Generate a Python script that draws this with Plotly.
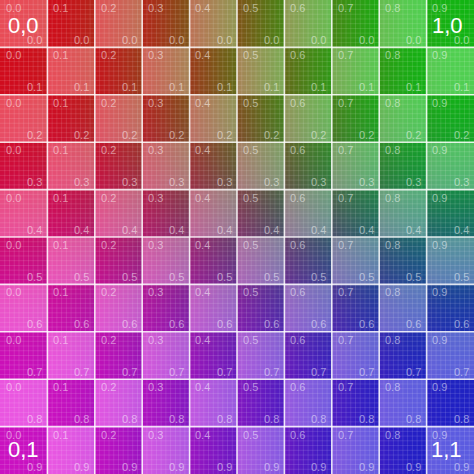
import numpy as np
import plotly.graph_objects as go

# Data: cell coordinates and labels
x_vals = [0.0, 0.1, 0.2, 0.3, 0.4, 0.5, 0.6, 0.7, 0.8, 0.9]
y_vals = [0.0, 0.1, 0.2, 0.3, 0.4, 0.5, 0.6, 0.7, 0.8, 0.9]
x_labels = ["0.0", "0.1", "0.2", "0.3", "0.4", "0.5", "0.6", "0.7", "0.8", "0.9"]
y_labels = ["0.0", "0.1", "0.2", "0.3", "0.4", "0.5", "0.6", "0.7", "0.8", "0.9"]
corner_labels = ["0,0", "1,0", "0,1", "1,1"]

# Corner colours (styles)
C_TL = np.array([225, 25, 40], float)    # 0,0 red
C_TR = np.array([30, 195, 30], float)    # 1,0 green
C_BL = np.array([228, 38, 218], float)   # 0,1 magenta
C_BR = np.array([45, 45, 215], float)    # 1,1 blue

N = len(x_vals)
SUB = 20
W = N * SUB

def ease(t):
    t = np.clip(t, 0, 1)
    return 3 * t ** 2 - 2 * t ** 3

def bilinear(xe, ye):
    xe = ease(xe)[None, :, None]
    ye = ease(ease(ye))[:, None, None]
    top = C_TL * (1 - xe) + C_TR * xe
    bot = C_BL * (1 - xe) + C_BR * xe
    return top * (1 - ye) + bot * ye

img = np.zeros((W, W, 3))
u = (np.arange(SUB) + 0.5) / SUB
for j, yv in enumerate(y_vals):
    for i, xv in enumerate(x_vals):
        xe = xv + 0.05 + (u - 0.5) * 0.2
        ye = yv + 0.05 + (u - 0.5) * 0.1
        c = bilinear(xe, ye)
        if (i + j) % 2 == 0:
            c = c + (255 - c) * 0.22
        else:
            g = c.mean(axis=2, keepdims=True)
            c = (g + (c - g) * 1.15) * 0.85
        img[j * SUB:(j + 1) * SUB, i * SUB:(i + 1) * SUB] = c
img = np.clip(np.round(img), 0, 255).astype(int)

fig = go.Figure()
fig.add_trace(go.Image(z=img.tolist(), x0=0.5 / SUB, dx=1 / SUB,
                       y0=0.5 / SUB, dy=1 / SUB, hoverinfo="skip"))

# minor grid lines
mx, my = [], []
for k in range(1, N * 10):
    if k % 10 == 0:
        continue
    p = k / 10
    mx += [p, p, None]; my += [0, N, None]
    mx += [0, N, None]; my += [p, p, None]
fig.add_trace(go.Scatter(x=mx, y=my, mode="lines",
                         line=dict(color="rgba(255,255,255,0.12)", width=1),
                         hoverinfo="skip", showlegend=False))
# major grid lines
Mx, My = [], []
for k in range(1, N):
    Mx += [k, k, None]; My += [0, N, None]
    Mx += [0, N, None]; My += [k, k, None]
fig.add_trace(go.Scatter(x=Mx, y=My, mode="lines",
                         line=dict(color="rgba(255,255,255,0.85)", width=1.6),
                         hoverinfo="skip", showlegend=False))

FONT = "Liberation Sans"
ann = []
for j, yl in enumerate(y_labels):
    for i, xl in enumerate(x_labels):
        ann.append(dict(x=i + 0.08, y=j + 0.17, text=xl, showarrow=False,
                        xanchor="left", yanchor="middle",
                        font=dict(family=FONT, size=11, color="rgba(255,255,255,0.5)")))
        ann.append(dict(x=i + 0.93, y=j + 0.845, text=yl, showarrow=False,
                        xanchor="right", yanchor="middle",
                        font=dict(family=FONT, size=11, color="rgba(255,255,255,0.5)")))

corner_pos = [(0.12, 0.53, "left"), (9.82, 0.53, "right"),
              (0.12, 9.49, "left"), (9.78, 9.49, "right")]
for lab, (cx, cy, anc) in zip(corner_labels, corner_pos):
    ann.append(dict(x=cx, y=cy, text=lab, showarrow=False, xanchor=anc,
                    yanchor="middle",
                    font=dict(family=FONT, size=22, color="white")))

fig.update_layout(
    width=474, height=474,
    margin=dict(l=0, r=0, t=0, b=0),
    paper_bgcolor="white", plot_bgcolor="white",
    xaxis=dict(range=[0, N], visible=False, fixedrange=True),
    yaxis=dict(range=[N, 0], visible=False, fixedrange=True),
    annotations=ann,
    showlegend=False,
)
fig.write_html("out.html")
